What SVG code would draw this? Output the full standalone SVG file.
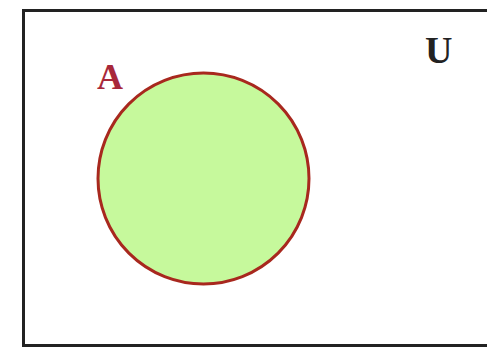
<svg xmlns="http://www.w3.org/2000/svg" width="487" height="348" viewBox="0 0 487 348">
<style>
.lbl{font-family:"Liberation Serif","DejaVu Serif",serif;font-weight:bold;}
</style>
<rect width="487" height="348" fill="#ffffff"/>
<g id="universe">
<rect x="23.5" y="10.5" width="470" height="335" fill="#ffffff" stroke="#222222" stroke-width="3"/>
<text class="lbl" x="425" y="63" font-size="38" fill="#222222">U</text>
</g>
<g id="setA">
<circle cx="203.5" cy="178.5" r="105.5" fill="#c6f99c" stroke="#a8281e" stroke-width="3"/>
<text class="lbl" x="97" y="89" font-size="36" fill="#a8283a">A</text>
</g>
</svg>
